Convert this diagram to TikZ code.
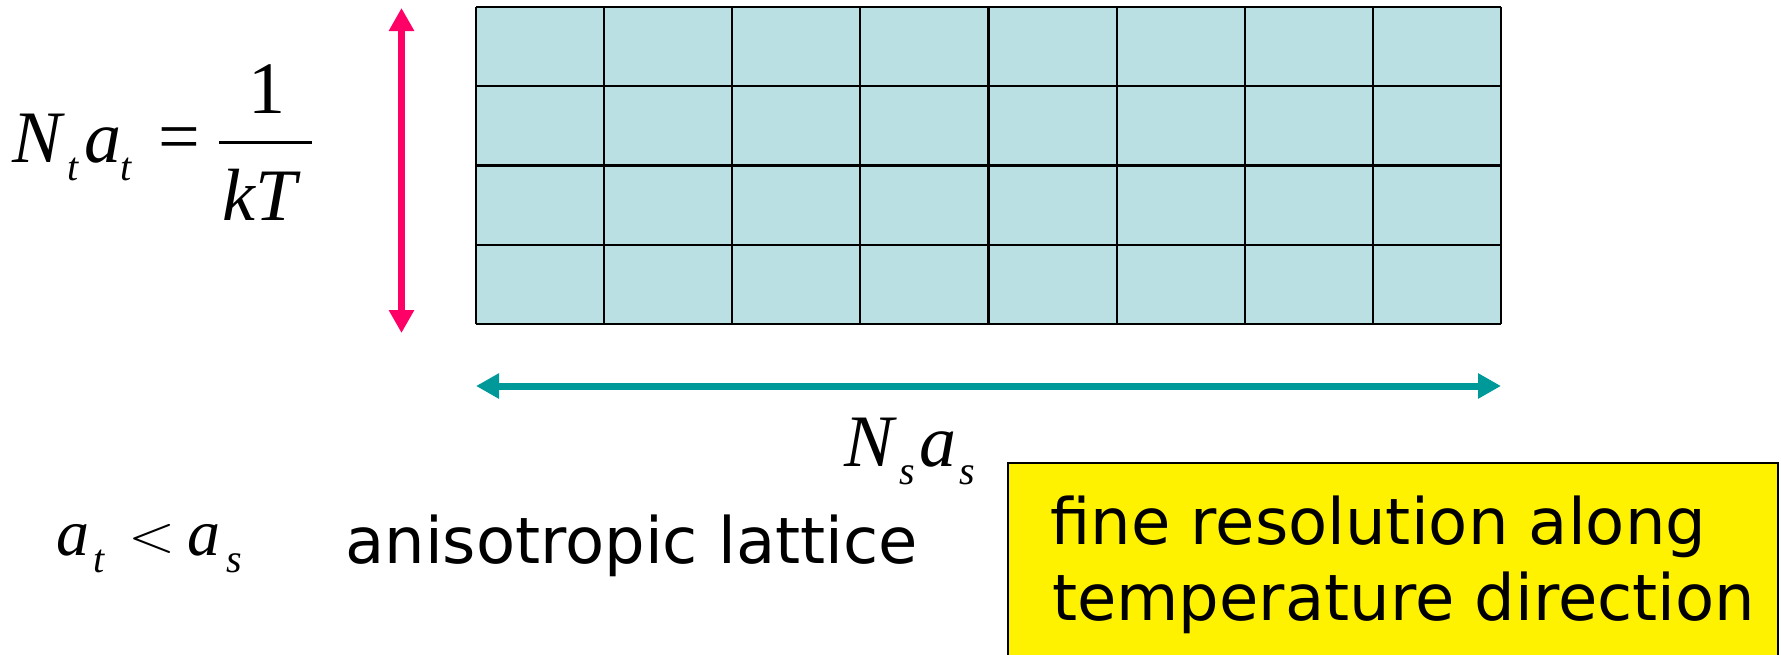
\documentclass[tikz,border=0pt]{standalone}
\usepackage{fontspec}
\usepackage{graphicx}
\setmainfont{Liberation Serif}
\newfontfamily\sansfnt{DejaVu Sans}
\usetikzlibrary{arrows.meta}
\definecolor{cellfill}{RGB}{187,224,227}
\definecolor{pinkarrow}{RGB}{255,0,102}
\definecolor{tealarrow}{RGB}{0,153,153}
\begin{document}
\begin{tikzpicture}[x=1pt,y=-1pt,
  mathbig/.style={inner sep=0pt,anchor=base west,font=\fontsize{74}{74}\selectfont\itshape},
  mathmid/.style={inner sep=0pt,anchor=base west,font=\fontsize{66}{66}\selectfont\itshape},
  mathsub/.style={inner sep=0pt,anchor=base west,font=\fontsize{40}{40}\selectfont\itshape},
  mathrm/.style={inner sep=0pt,anchor=base west,font=\fontsize{74}{74}\selectfont},
  labeltext/.style={inner sep=0pt,anchor=base west,font=\sansfnt\fontsize{64}{64}\selectfont},
  gridline/.style={line width=2.2pt,black},
  dimarrow/.style={line width=7pt,{Triangle[length=23pt,width=24pt]}-{Triangle[length=23pt,width=24pt]}},
  notebox/.style={draw=black,line width=1.5pt,fill=yellow,inner sep=0pt,anchor=north west,minimum width=770pt,minimum height=230pt}
]
\useasboundingbox (0,0) rectangle (1781,654);
\clip (0,0) rectangle (1781,654);

% lattice
\coordinate (gridNW) at (476,7);
\coordinate (gridSE) at (1501,324);
\fill[cellfill] (gridNW) rectangle (gridSE);
\foreach \i in {0,...,8} {
  \draw[gridline] ({476+\i*128.125},7) -- ({476+\i*128.125},324);
}
\foreach \j in {0,...,4} {
  \draw[gridline] (476,{7+\j*79.25}) -- (1501,{7+\j*79.25});
}

% arrows
\coordinate (ttop) at (401.5,8);
\coordinate (tbot) at (401.5,333);
\draw[dimarrow,pinkarrow] (ttop) -- (tbot);
\coordinate (sleft) at (476,386);
\coordinate (sright) at (1501,386);
\draw[dimarrow,tealarrow] (sleft) -- (sright);

% N_t a_t = 1/kT
\node[mathbig] (Nt) at (12,162) {N};
\node[mathsub] (Ntsub) at (67,180) {t};
\node[mathbig] (at) at (84,162) {a};
\node[mathsub] (atsub) at (120,180) {t};
\node[mathrm] (eq) at (158,161) {=};
\node[mathrm] (one) at (248,113) {1};
\node[mathbig] (kT) at (222,220) {kT};
\coordinate (barL) at (219,142);
\coordinate (barR) at (312,142);
\draw[line width=3pt] (barL) -- (barR);

% N_s a_s
\node[mathbig] (Ns) at (844,466) {N};
\node[mathsub] (Nssub) at (899,484) {s};
\node[mathbig] (as) at (919,466) {a};
\node[mathsub] (assub) at (959,484) {s};

% a_t < a_s
\node[mathmid] (a1) at (56,555) {a};
\node[mathsub] (a1sub) at (93,572) {t};
\node[inner sep=0pt,anchor=base west,font=\fontsize{10}{10}\selectfont] (lt) at (128,551) {\scalebox{6.07}[5.02]{$<$}};
\node[mathmid] (a2) at (187,555) {a};
\node[mathsub] (a2sub) at (226,572) {s};

\node[labeltext] (aniso) at (345,563) {anisotropic lattice};

% note box
\node[notebox] (box) at (1007,462) {};
\node[labeltext] (line1) at (1050,544) {fine resolution along};
\node[labeltext] (line2) at (1052,620) {temperature direction};
\end{tikzpicture}
\end{document}
